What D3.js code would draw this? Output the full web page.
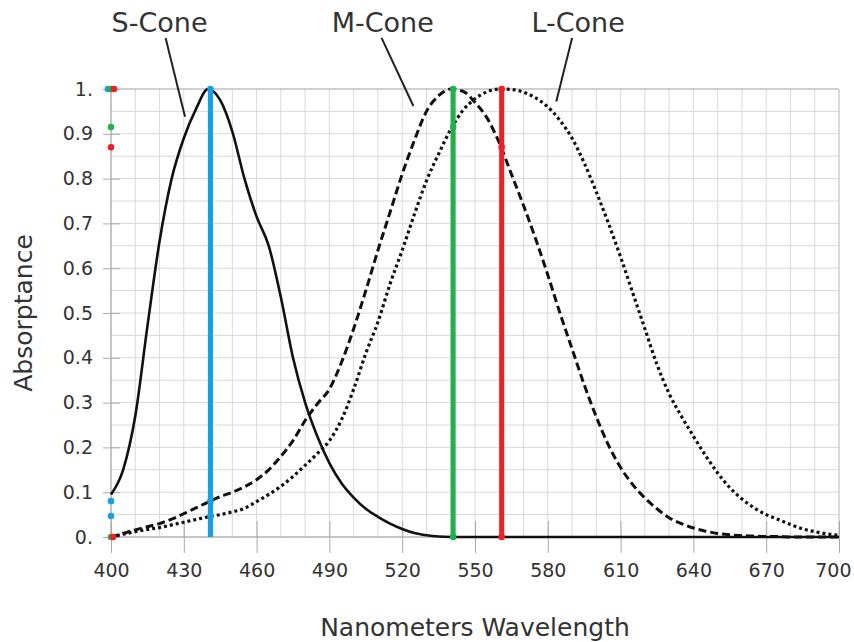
<!DOCTYPE html>
<html><head><meta charset="utf-8">
<script src="https://cdn.jsdelivr.net/npm/d3@7/dist/d3.min.js"></script>
<style>body{margin:0;background:#fff}svg{display:block}text{font-family:"DejaVu Sans",Verdana,sans-serif}</style>
</head><body>
<svg id="c" width="854" height="642"></svg>
<script>
// ---- data ----
const wavelengths = d3.range(400, 701, 5);
const sCone = [0.095,0.15,0.27,0.47,0.66,0.80,0.89,0.955,1.0,0.975,0.905,0.80,0.715,0.65,0.535,0.40,0.30,0.225,0.165,0.12,0.088,0.063,0.045,0.03,0.018,0.009,0.004,0.001,
  0,0,0,0,0,0,0,0,0,0,0,0,0,0,0,0,0,0,0,0,0,0,0,0,0,0,0,0,0,0,0,0,0];
const mCone = [0,0.008,0.016,0.023,0.03,0.04,0.052,0.065,0.078,0.09,0.10,0.112,0.128,0.15,0.18,0.215,0.26,0.297,0.33,0.39,0.465,0.55,0.64,0.725,0.81,0.885,0.95,0.985,1.0,0.995,0.97,0.935,0.88,0.81,0.74,0.665,0.585,0.50,0.42,0.34,0.268,0.205,0.155,0.117,0.087,0.063,0.043,0.03,0.02,0.013,0.008,0.005,0.003,0.002,0.001,0.001,0,0,0,0,0];
const lCone = [0,0.006,0.012,0.017,0.021,0.027,0.033,0.039,0.045,0.05,0.056,0.064,0.079,0.095,0.113,0.135,0.16,0.186,0.215,0.262,0.33,0.41,0.48,0.565,0.64,0.72,0.795,0.855,0.91,0.952,0.978,0.994,1.0,0.999,0.993,0.98,0.96,0.93,0.89,0.835,0.77,0.70,0.625,0.545,0.465,0.385,0.32,0.27,0.225,0.182,0.143,0.11,0.085,0.065,0.05,0.039,0.028,0.018,0.012,0.007,0.004];
const peakLines = [441, 541, 561];
const peakColors = ["#14a0e2", "#22b04a", "#ee1f27"];
// absorptance values where each peak line meets the three curves (dots on the y axis)
const peakHits = [[1.0, 0.08, 0.047], [1.0, 0.915, 0.0], [1.0, 0.87, 0.0]];
const xTicks = d3.range(400, 701, 30);
const yTicks = [0,0.1,0.2,0.3,0.4,0.5,0.6,0.7,0.8,0.9,1.0];
const yTickLabels = ["0.","0.1","0.2","0.3","0.4","0.5","0.6","0.7","0.8","0.9","1."];
const labels = ["S-Cone","M-Cone","L-Cone"];
const labelAt = [420, 512, 592.5];          // nm of label centre
const pointerFrom = [[422.5,1.114],[511.5,1.114],[590,1.114]];
const pointerTo = [[430.5,0.938],[524.6,0.962],[583.5,0.972]];

// ---- layout ----
const W = 854, H = 642;
const m = {l:111, r:15, t:89, b:105};
const svg = d3.select("#c");
const x = d3.scaleLinear().domain([400,700]).range([m.l, W-m.r]);
const y = d3.scaleLinear().domain([0,1]).range([H-m.b, m.t]);

// grid
const g = svg.append("g");
g.selectAll(".gv").data(d3.range(400,701,10)).join("line")
  .attr("x1",d=>x(d)).attr("x2",d=>x(d)).attr("y1",y(0)).attr("y2",y(1))
  .attr("stroke","#d9d9d9").attr("stroke-width",1);
g.selectAll(".gh").data(d3.range(0,21).map(i=>i*0.05)).join("line")
  .attr("x1",x(400)).attr("x2",x(700)).attr("y1",d=>y(d)).attr("y2",d=>y(d))
  .attr("stroke","#d9d9d9").attr("stroke-width",1);
// frame
svg.append("line").attr("x1",x(400)).attr("x2",x(700)).attr("y1",y(1)).attr("y2",y(1)).attr("stroke","#b4b4b4");
svg.append("line").attr("x1",x(700)).attr("x2",x(700)).attr("y1",y(1)).attr("y2",y(0)).attr("stroke","#c8c8c8");
svg.append("line").attr("x1",x(400)).attr("x2",x(400)).attr("y1",y(1)).attr("y2",y(0)).attr("stroke","#a0a0a0");
svg.append("line").attr("x1",x(400)).attr("x2",x(700)).attr("y1",y(0)).attr("y2",y(0)).attr("stroke","#a0a0a0");

// axes
const xAxis = d3.axisBottom(x).tickValues(xTicks).tickSize(16).tickPadding(11).tickFormat(d3.format("d"));
const xg = svg.append("g").attr("transform",`translate(0,${y(0)})`).call(xAxis);
xg.select(".domain").remove();
xg.selectAll(".tick line").attr("stroke","#aaa").attr("y1",-16);
xg.selectAll(".tick text").attr("font-size",19).attr("fill","#333").attr("font-family","DejaVu Sans, sans-serif");
xg.selectAll(".tick text").filter(d=>d===700).attr("text-anchor","end").attr("dx",12);
const yAxis = d3.axisLeft(y).tickValues(yTicks).tickSize(8).tickPadding(10).tickFormat((d,i)=>yTickLabels[i]);
const yg = svg.append("g").attr("transform",`translate(${x(400)},0)`).call(yAxis);
yg.select(".domain").remove();
yg.selectAll(".tick line").attr("stroke","#aaa").attr("x2",-8).attr("x1",9);
yg.selectAll(".tick text").attr("font-size",19).attr("fill","#333").attr("font-family","DejaVu Sans, sans-serif");

// curves
const line = d3.line().x((d,i)=>x(wavelengths[i])).y(d=>y(d)).curve(d3.curveMonotoneX);
svg.append("path").attr("d",line(lCone)).attr("fill","none").attr("stroke","#111").attr("stroke-width",3.2).attr("stroke-dasharray","3,3");
svg.append("path").attr("d",line(mCone)).attr("fill","none").attr("stroke","#111").attr("stroke-width",3).attr("stroke-dasharray","8,4");
svg.append("path").attr("d",line(sCone)).attr("fill","none").attr("stroke","#111").attr("stroke-width",2.6);

// peak lines
svg.selectAll(".pk").data(peakLines).join("line")
  .attr("x1",d=>x(d)).attr("x2",d=>x(d)).attr("y1",y(0)).attr("y2",y(1))
  .attr("stroke",(d,i)=>peakColors[i]).attr("stroke-width",5);

// dots on the curves at the peak lines and on the y axis
peakLines.forEach((p,i)=>{
  peakHits[i].forEach(v=>{
    svg.append("circle").attr("cx",x(p)).attr("cy",y(v)).attr("r",3.3).attr("fill",peakColors[i]);
  });
});
const offs = [-3,0,3];
peakLines.forEach((p,i)=>{
  peakHits[i].forEach(v=>{
    const dup = peakHits.filter(h=>h.includes(v)).length>1;
    const dx = dup ? (v===0 ? offs[i]/1.5 : offs[i]) : 0;
    svg.append("circle").attr("cx",x(400)+dx).attr("cy",y(v)).attr("r",3.3).attr("fill",peakColors[i]);
  });
});

// labels with pointers
labels.forEach((t,i)=>{
  svg.append("text").attr("x",x(labelAt[i])).attr("y",32).attr("text-anchor","middle")
    .attr("font-size",27).attr("fill","#333").text(t);
  svg.append("line").attr("x1",x(pointerFrom[i][0])).attr("y1",y(pointerFrom[i][1]))
    .attr("x2",x(pointerTo[i][0])).attr("y2",y(pointerTo[i][1])).attr("stroke","#222").attr("stroke-width",2);
});

// axis titles
svg.append("text").attr("x",x(550)).attr("y",636).attr("text-anchor","middle").attr("font-size",25).attr("fill","#333").text("Nanometers Wavelength");
svg.append("text").attr("transform",`translate(32,${(y(0)+y(1))/2}) rotate(-90)`).attr("text-anchor","middle").attr("font-size",25).attr("fill","#333").text("Absorptance");
</script>
</body></html>
